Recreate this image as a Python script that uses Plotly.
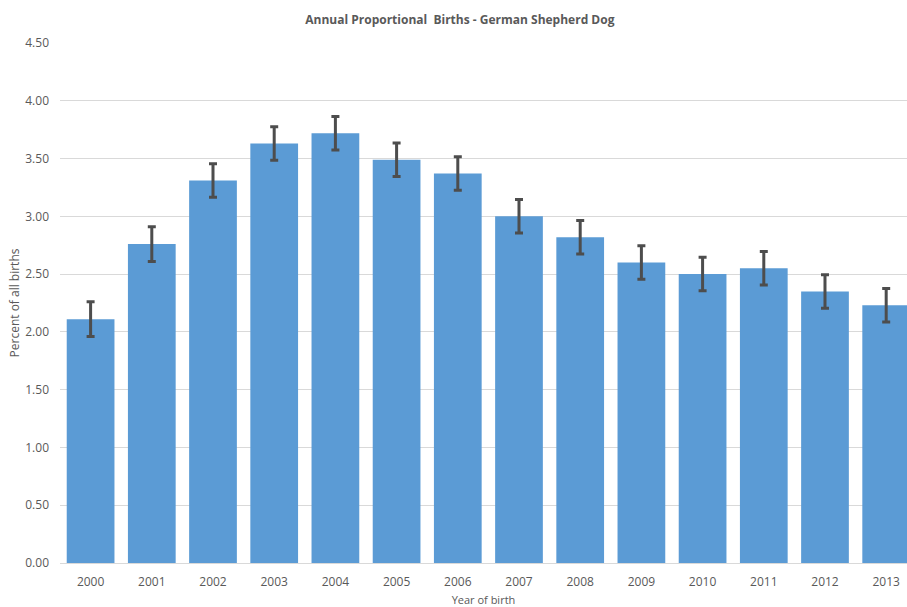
import plotly.graph_objects as go

years = ["2000", "2001", "2002", "2003", "2004", "2005", "2006",
         "2007", "2008", "2009", "2010", "2011", "2012", "2013"]
percent = [2.11, 2.76, 3.31, 3.63, 3.72, 3.49, 3.37,
           3.00, 2.82, 2.60, 2.50, 2.55, 2.35, 2.23]
err = [0.15, 0.15, 0.145, 0.145, 0.145, 0.145, 0.145,
       0.145, 0.145, 0.145, 0.145, 0.145, 0.145, 0.145]
yticks = [0, 0.5, 1.0, 1.5, 2.0, 2.5, 3.0, 3.5, 4.0, 4.5]

fig = go.Figure()
fig.add_trace(go.Bar(
    x=years, y=percent,
    marker=dict(color="#5B9BD5", line=dict(width=0)),
    error_y=dict(type="data", array=err, visible=True,
                 color="#4D4D4D", thickness=3, width=4),
    hoverinfo="skip",
))

fig.update_layout(
    width=907, height=607,
    margin=dict(l=60, r=0, t=43, b=44, autoexpand=False),
    paper_bgcolor="white", plot_bgcolor="white",
    bargap=0.22,
    showlegend=False,
    font=dict(family="Open Sans", color="#595959", size=11),
    title=dict(text="<b>Annual Proportional  Births - German Shepherd Dog</b>",
               x=0.507, xanchor="center", yref="container", y=0.968,
               yanchor="middle",
               font=dict(size=12, color="#595959")),
    xaxis=dict(range=[-0.5, 13.34], showgrid=False, showline=False,
               automargin=False, ticklabelstandoff=10,
               ticks="", tickfont=dict(size=12, color="#595959"),
               title=dict(text="Year of birth", standoff=7,
                          font=dict(size=11, color="#595959"))),
    yaxis=dict(range=[0, 4.5], tickvals=yticks, tickformat=".2f",
               automargin=False,
               showgrid=True, gridcolor="#D9D9D9", gridwidth=1,
               zeroline=True, zerolinecolor="#D9D9D9", zerolinewidth=1,
               showline=False, ticks="", ticklabelstandoff=10,
               tickfont=dict(size=12, color="#595959"),
               title=dict(text="Percent of all births", standoff=3,
                          font=dict(size=12, color="#595959"))),
)

fig.write_html("out.html",
               config={"displayModeBar": False},
               post_script="document.body.style.margin='0px';document.body.style.overflow='hidden';")
